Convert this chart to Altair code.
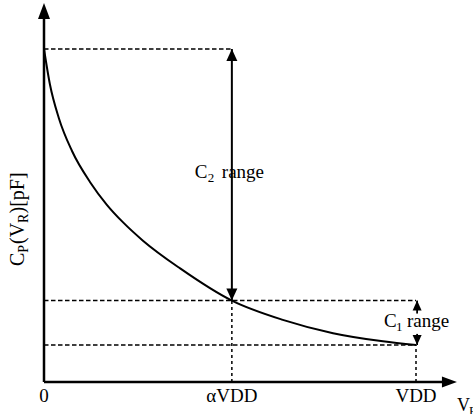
import altair as alt
import pandas as pd

# ---------------- data ----------------
ALPHA = 0.505          # alpha * VDD, as a fraction of VDD
VDD = 1.0
C_MAX = 9.0            # C_P at V_R = 0
C_ALPHA = 2.2          # C_P at alpha*VDD
C_VDD = 1.0            # C_P at VDD

curve_v = [0.0, 0.016, 0.04, 0.075, 0.124, 0.169, 0.212, 0.266, 0.366, 0.505, 0.642, 0.777, 0.911, 1.0]
curve_c = [9.0, 8.04, 7.13, 6.25, 5.40, 4.79, 4.32, 3.82, 3.07, 2.2, 1.68, 1.32, 1.10, 1.0]

x_tick_values = [0.0, ALPHA, VDD]
x_tick_labels = ["0", "αVDD", "VDD"]

X_END = 1.11     # end of the V_R axis arrow
Y_END = 10.24    # end of the C_P axis arrow

# ---------------- layout ----------------
W, H = 473, 414
FONT = "Liberation Serif"
X_DOM = [-44 / 372, (W - 44) / 372]
Y_DOM = [-(H - 382) / 37, 382 / 37]
xs = alt.Scale(domain=X_DOM, nice=False, zero=False)
ys = alt.Scale(domain=Y_DOM, nice=False, zero=False)


def X(f="x"):
    return alt.X(f, type="quantitative", scale=xs, axis=None)


def Y(f="y"):
    return alt.Y(f, type="quantitative", scale=ys, axis=None)


def segs(rows, **mark):
    df = pd.DataFrame(rows, columns=["x", "y", "x2", "y2"])
    return alt.Chart(df).mark_rule(color="black", **mark).encode(
        x=X(), y=Y(), x2="x2:Q", y2="y2:Q"
    )


def head(x, y, path):
    df = pd.DataFrame({"x": [x], "y": [y]})
    return alt.Chart(df).mark_point(
        shape=path, size=4, filled=True, color="black", opacity=1, strokeWidth=0
    ).encode(x=X(), y=Y())


def label(x, y, text, size, dx=0, dy=0, align="left"):
    df = pd.DataFrame({"x": [x], "y": [y], "t": [text]})
    return alt.Chart(df).mark_text(
        font=FONT, fontSize=size, dx=dx, dy=dy, align=align,
        baseline="alphabetic", color="black"
    ).encode(x=X(), y=Y(), text="t:N")


def vlabel(text, size, dx=0, dy=0):
    df = pd.DataFrame({"t": [text]})
    return alt.Chart(df).mark_text(
        font=FONT, fontSize=size, dx=dx, dy=dy, align="left",
        baseline="alphabetic", angle=270, color="black"
    ).encode(x=alt.value(24), y=alt.value(266), text="t:N")


UP = lambda w, h: f"M0,0L{w/2},{h}L{-w/2},{h}Z"
DOWN = lambda w, h: f"M0,0L{w/2},{-h}L{-w/2},{-h}Z"
RIGHT = lambda w, h: f"M0,0L{-w},{-h/2}L{-w},{h/2}Z"

layers = []

# dashed guide lines
layers.append(segs([
    (0, C_MAX, ALPHA, C_MAX),
    (0, C_ALPHA, VDD, C_ALPHA),
    (0, C_VDD, VDD, C_VDD),
], strokeWidth=1.5, strokeDash=[4.5, 2.5]))
layers.append(segs([
    (ALPHA, 0, ALPHA, C_ALPHA),
    (VDD, 0, VDD, C_VDD),
], strokeWidth=1.5, strokeDash=[3, 3]))

# curve
curve_df = pd.DataFrame({"x": curve_v, "y": curve_c})
layers.append(alt.Chart(curve_df).mark_line(
    color="black", strokeWidth=2, interpolate="monotone"
).encode(x=X(), y=Y()))

# axes
layers.append(segs([
    (0, 0, 0, Y_END - 0.3),
    (0, 0, X_END - 0.03, 0),
], strokeWidth=2.5))
layers.append(head(0, Y_END, UP(12, 16)))
layers.append(head(X_END, 0, RIGHT(15, 11)))

# C2 range arrow
layers.append(segs([(ALPHA, C_ALPHA, ALPHA, C_MAX)], strokeWidth=2))
layers.append(head(ALPHA, C_MAX, UP(11, 12)))
layers.append(head(ALPHA, C_ALPHA, DOWN(11, 12)))

# C1 range arrow
layers.append(segs([
    (VDD + 0.003, C_ALPHA, VDD + 0.003, C_ALPHA - 0.35),
    (VDD + 0.003, C_VDD + 0.3, VDD + 0.003, C_VDD),
], strokeWidth=1.8))
layers.append(head(VDD + 0.003, C_ALPHA, UP(9, 10)))
layers.append(head(VDD + 0.003, C_VDD, DOWN(9, 10)))

# x tick labels
tick_df = pd.DataFrame({"x": x_tick_values, "t": x_tick_labels, "y": [-0.54] * 3})
layers.append(alt.Chart(tick_df).mark_text(
    font=FONT, fontSize=19, align="center", baseline="alphabetic", color="black"
).encode(x=X(), y=Y(), text="t:N"))

# V_R axis name (cut at the right edge, as in the reference)
layers.append(label(1.1156, -0.784, "V", 18, dx=-2))
layers.append(label(1.1156, -0.784, "R", 13, dx=10, dy=4))

# C2 range label
mid2 = (C_MAX + C_ALPHA) / 2
layers.append(label(ALPHA, mid2, "C", 19, dx=-37, dy=3))
layers.append(label(ALPHA, mid2, "2", 13, dx=-24, dy=7))
layers.append(label(ALPHA, mid2, "range", 19, dx=-10, dy=3))

# C1 range label
mid1 = (C_ALPHA + C_VDD) / 2
layers.append(label(VDD, mid1, "C", 19, dx=-32, dy=4))
layers.append(label(VDD, mid1, "1", 13, dx=-20, dy=8))
layers.append(label(VDD, mid1, "range", 19, dx=-9, dy=4))

# y-axis title C_P(V_R)[pF]
layers.append(vlabel("C", 20, dx=0))
layers.append(vlabel("P", 14, dx=13.3, dy=4))
layers.append(vlabel("(V", 20, dx=22))
layers.append(vlabel("R", 14, dx=43, dy=4))
layers.append(vlabel(")[pF]", 20, dx=52.5))

chart = alt.layer(*layers).properties(
    width=W, height=H, padding=0,
    autosize=alt.AutoSizeParams(type="none"),
    background="white",
).configure_view(stroke=None)

chart.save("out.html", embed_options={"renderer": "svg", "actions": False})
